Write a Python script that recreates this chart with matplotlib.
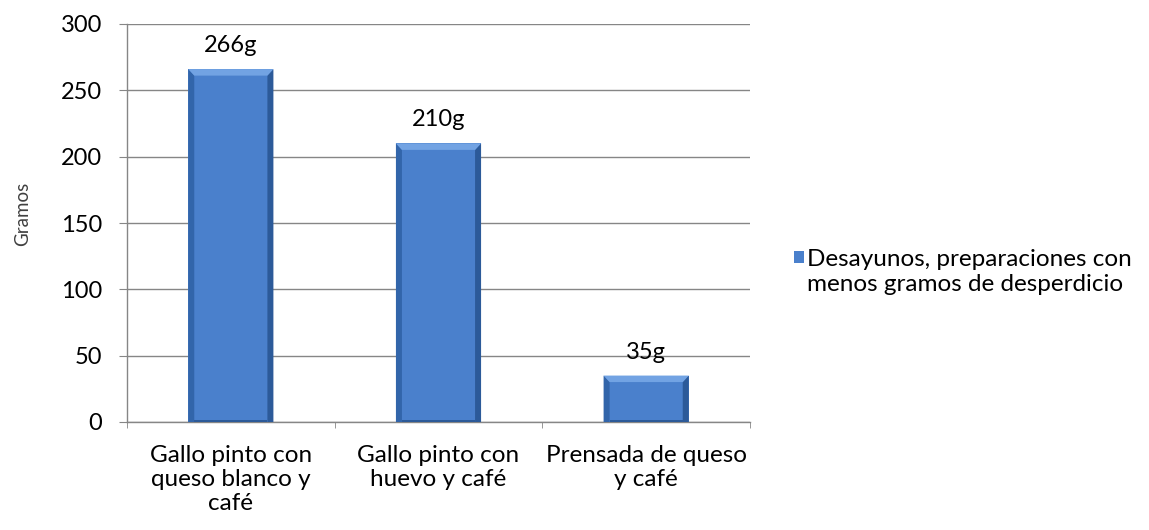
import matplotlib
matplotlib.use("Agg")
import matplotlib.pyplot as plt
import numpy as np
from matplotlib.patches import Polygon

categories = ["Gallo pinto con\nqueso blanco y\ncafé", "Gallo pinto con\nhuevo y café", "Prensada de queso\ny café"]
values = [266, 210, 35]
labels = ["266g", "210g", "35g"]
series_name = "Desayunos, preparaciones con\nmenos gramos de desperdicio"
yticks = [0, 50, 100, 150, 200, 250, 300]

FS_NUM = 17
FS_TXT = 17.5
plt.rcParams['font.family'] = ['Lato', 'DejaVu Sans']
W, H = 1149, 530
fig = plt.figure(figsize=(W/100, H/100), dpi=100)
ax = fig.add_axes([127/W, 1-422/H, (750-127)/W, (422-24)/H])

x = np.arange(len(categories))
bw = 0.41
bars = ax.bar(x, values, width=bw, color="#4A80CC", edgecolor="none", zorder=3)

ax.set_xlim(-0.5, len(categories)-0.5)
ax.set_ylim(0, 300)

# bevel effect (sizes converted from pixels to data units)
bx = 6 / 207.7
by = 6.5 * 300 / 398
for b in bars:
    x0 = b.get_x(); x1 = x0 + b.get_width(); h = b.get_height()
    ax.add_patch(Polygon([[x0, 0], [x0, h], [x0+bx, h-by], [x0+bx, 0]], closed=True, color="#3265AA", lw=0, zorder=4))
    ax.add_patch(Polygon([[x1, 0], [x1, h], [x1-bx, h-by], [x1-bx, 0]], closed=True, color="#2C5A99", lw=0, zorder=4))
    ax.add_patch(Polygon([[x0, h], [x1, h], [x1-bx, h-by], [x0+bx, h-by]], closed=True, color="#72A3E3", lw=0, zorder=4))
    ax.add_patch(Polygon([[x0+bx, 0], [x1-bx, 0], [x1-bx, 1.5], [x0+bx, 1.5]], closed=True, color="#2C5A99", lw=0, zorder=4))

for xi, v, lab in zip(x, values, labels):
    ax.annotate(lab, (xi, v), xytext=(0, 12.2), textcoords="offset points", ha="center", va="baseline",
                fontsize=FS_NUM, color="black")

ax.set_yticks(yticks)
ax.set_yticklabels([str(t) for t in yticks], fontsize=FS_NUM)
ax.yaxis.grid(True, color="#868686", lw=1, zorder=0)
ax.set_axisbelow(True)

ax.set_xticks(x)
ax.set_xticklabels(categories, fontsize=FS_TXT, linespacing=1.18, va="top")
ax.tick_params(axis="x", length=0, pad=16.5)
ax.set_xticks(np.arange(-0.5, len(categories), 1), minor=True)
ax.tick_params(axis="x", which="minor", length=4.3, color="#868686", direction="out")
ax.tick_params(axis="y", length=5.8, color="#868686", direction="out", pad=12)

for s in ["top", "right"]:
    ax.spines[s].set_visible(False)
for s in ["left", "bottom"]:
    ax.spines[s].set_color("#868686")
    ax.spines[s].set_linewidth(1)

fig.text(22.5/W, 1-214/H, "Gramos", rotation=90, ha="center", va="center", fontsize=13.5, color="#404040")

leg = fig.legend([bars[0]], [series_name], loc="center left", bbox_to_anchor=(794/W, 1-272/H),
                 frameon=False, fontsize=FS_TXT, handlelength=0.4, handleheight=0.4, handletextpad=0.15,
                 borderpad=0, borderaxespad=0)
leg.get_texts()[0].set_linespacing(1.25)
h = leg.legend_handles[0]
h.set_y(h.get_y() + 10.5)

fig.savefig("out.png", dpi=100)
